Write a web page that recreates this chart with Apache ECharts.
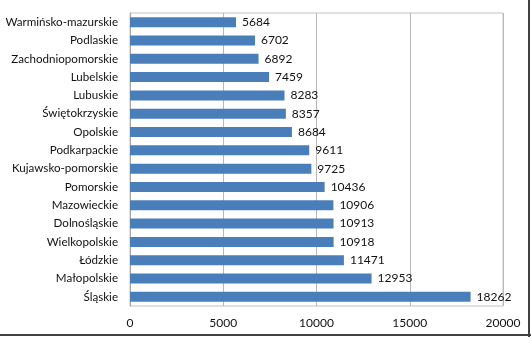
<!DOCTYPE html>
<html>
<head>
<meta charset="utf-8">
<script src="https://cdn.jsdelivr.net/npm/echarts@6/dist/echarts.min.js"></script>
<style>
html,body{margin:0;padding:0;background:#fff;}
#c{width:531px;height:337px;}
</style>
</head>
<body>
<div id="c"></div>
<script>
const categories = ["Warmińsko-mazurskie","Podlaskie","Zachodniopomorskie","Lubelskie","Lubuskie","Świętokrzyskie","Opolskie","Podkarpackie","Kujawsko-pomorskie","Pomorskie","Mazowieckie","Dolnośląskie","Wielkopolskie","Łódzkie","Małopolskie","Śląskie"];
const values = [5684,6702,6892,7459,8283,8357,8684,9611,9725,10436,10906,10913,10918,11471,12953,18262];
const xTicks = [0,5000,10000,15000,20000];

const FONT = "Lato";
const chart = echarts.init(document.getElementById('c'), null, {renderer:'canvas'});
chart.setOption({
  animation:false,
  backgroundColor:'#fff',
  grid:{left:130,right:28,top:13,bottom:31,containLabel:false,show:true,borderColor:'#BCC3CB',borderWidth:1},
  xAxis:{
    type:'value',min:xTicks[0],max:xTicks[xTicks.length-1],interval:5000,
    axisLine:{show:false},axisTick:{show:false},
    splitLine:{show:true,lineStyle:{color:'#B8B8B8',width:1}},
    axisLabel:{fontFamily:FONT,fontSize:12,color:'#111',margin:11,formatter:function(v){return String(v);}}
  },
  yAxis:{
    type:'category',data:categories,inverse:true,
    axisLine:{show:true,lineStyle:{color:'#A6A6A6'}},axisTick:{show:false},
    axisLabel:{fontFamily:FONT,fontSize:11.6,color:'#111',margin:12}
  },
  series:[{
    type:'bar',data:values,barWidth:10,
    itemStyle:{color:'#4A7EBB'},
    label:{show:true,position:'right',distance:6,fontFamily:FONT,fontSize:12,color:'#111'}
  }],
  graphic:[
    {type:'line',shape:{x1:529,y1:0,x2:529,y2:337},style:{stroke:'#404040',lineWidth:2}},
    {type:'line',shape:{x1:0,y1:335,x2:531,y2:335},style:{stroke:'#404040',lineWidth:2}}
  ]
});
</script>
</body>
</html>
